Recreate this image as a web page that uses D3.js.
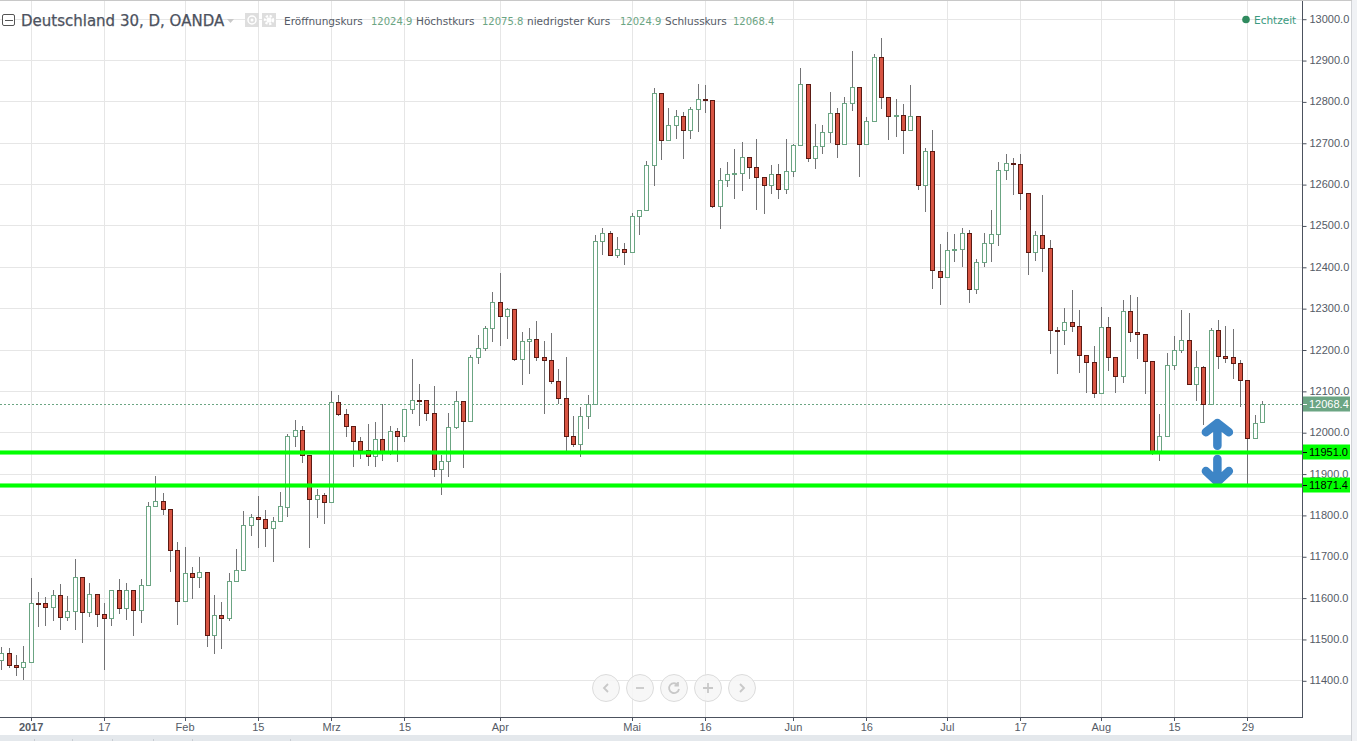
<!DOCTYPE html>
<html>
<head>
<meta charset="utf-8">
<title>Deutschland 30</title>
<script src="https://cdn.jsdelivr.net/npm/d3@7"></script>
<style>
  html, body { margin: 0; padding: 0; background: #fff; overflow: hidden; }
  svg { display: block; }
  text { font-family: "Liberation Sans", Arial, sans-serif; }
  .head { font-family: "DejaVu Sans", Verdana, sans-serif; }
</style>
</head>
<body>
<svg id="chart" width="1357" height="741"></svg>
<script>
// daily candles
const opens = [11448,11465,11436,11433,11444,11586,11586,11577,11606,11552,11567,11651,11564,11608,11560,11550,11618,11574,11618,11569,
  11630,11821,11833,11814,11714,11591,11659,11651,11661,11509,11557,11550,11639,11666,11775,11794,11789,11768,11785,11820,
  11990,12005,11946,11838,11847,11830,12072,12043,12014,11978,11956,11942,11983,11954,12002,11990,12055,12077,12077,12046,
  11910,11930,12012,12075,12026,12181,12203,12251,12316,12280,12297,12176,12220,12225,12183,12174,12125,12082,11990,11971,
  12038,12067,12462,12481,12428,12442,12435,12522,12537,12645,12820,12706,12742,12764,12732,12781,12807,12803,12546,12609,
  12624,12626,12665,12641,12616,12597,12624,12587,12631,12694,12841,12662,12691,12725,12771,12696,12795,12834,12696,12752,
  12907,12810,12764,12766,12730,12764,12597,12679,12391,12375,12440,12442,12481,12346,12411,12457,12479,12633,12650,12648,
  12578,12435,12476,12445,12246,12246,12266,12258,12186,12169,12096,12254,12181,12135,12292,12242,12237,12171,11951,11990,
  12162,12198,12222,12116,12157,12067,12246,12184,12181,12167,12126,11985,12024.9];
const highs = [11481,11478,11461,11483,11647,11613,11602,11618,11632,11604,11693,11651,11635,11608,11586,11618,11644,11635,11618,11644,
  11831,11893,11853,11814,11734,11722,11673,11697,11661,11606,11589,11659,11717,11809,11801,11845,11811,11794,11855,11996,
  12030,12015,11946,11863,11852,12100,12090,12056,12014,11988,12020,12025,12067,12014,12010,12055,12177,12117,12079,12111,
  11946,12046,12100,12075,12187,12235,12258,12339,12385,12300,12297,12242,12251,12268,12220,12239,12152,12181,12039,12060,
  12090,12477,12493,12486,12471,12457,12529,12537,12655,12832,12820,12783,12778,12774,12786,12841,12839,12803,12638,12653,
  12684,12701,12665,12708,12616,12645,12648,12708,12696,12880,12841,12745,12742,12822,12783,12810,12921,12834,12762,12914,
  12953,12810,12805,12793,12839,12764,12687,12732,12454,12483,12479,12495,12488,12420,12481,12537,12653,12674,12662,12672,
  12578,12486,12573,12464,12254,12300,12343,12295,12186,12208,12302,12278,12183,12319,12331,12326,12237,12171,12043,12191,
  12232,12295,12288,12196,12159,12251,12271,12256,12249,12174,12126,12041,12075.8];
const lows = [11425,11430,11410,11401,11444,11530,11532,11543,11522,11543,11522,11491,11554,11530,11425,11531,11561,11546,11507,11539,
  11630,11821,11800,11663,11534,11591,11597,11623,11481,11464,11476,11543,11639,11666,11749,11720,11722,11686,11785,11796,
  11965,11926,11720,11792,11778,11830,12040,11989,11916,11934,11919,11916,11931,11946,11929,11976,12044,12016,12027,11892,
  11848,11892,12008,11914,12026,12165,12197,12217,12208,12225,12173,12114,12141,12173,12044,12117,12067,11954,11965,11941,
  12008,12067,12429,12428,12421,12404,12433,12477,12537,12595,12658,12706,12709,12661,12709,12726,12772,12542,12492,12593,
  12564,12583,12612,12537,12528,12576,12564,12576,12617,12694,12654,12637,12673,12699,12663,12696,12777,12617,12696,12752,
  12782,12707,12714,12673,12730,12586,12533,12346,12308,12375,12412,12400,12312,12334,12400,12412,12450,12609,12574,12537,
  12380,12414,12387,12189,12141,12211,12242,12143,12095,12083,12094,12148,12095,12120,12218,12177,12092,11945,11930,11990,
  12150,12191,12116,12076,12017,12067,12153,12167,12128,12060,11868,11985,12024.9];
const closes = [11465,11436,11433,11444,11586,11585,11577,11606,11552,11567,11651,11564,11608,11560,11550,11618,11574,11618,11569,11630,
  11821,11833,11814,11714,11591,11659,11651,11661,11509,11557,11550,11639,11666,11775,11794,11789,11768,11785,11821,11990,
  12005,11946,11838,11847,11830,12072,12043,12014,11978,11956,11942,11983,11954,12002,11990,12055,12077,12076,12046,11910,
  11930,12012,12075,12026,12181,12203,12251,12316,12280,12297,12176,12220,12225,12183,12174,12125,12082,11990,11971,12038,
  12067,12462,12481,12428,12442,12435,12522,12537,12645,12820,12706,12742,12764,12732,12781,12807,12803,12546,12609,12624,
  12626,12665,12641,12616,12597,12624,12587,12631,12694,12841,12662,12691,12725,12771,12696,12795,12834,12696,12752,12907,
  12810,12764,12766,12730,12764,12597,12679,12392,12375,12440,12442,12481,12346,12411,12457,12479,12633,12650,12648,12578,
  12435,12476,12445,12246,12245,12266,12258,12186,12169,12096,12254,12181,12135,12292,12242,12237,12171,11951,11990,12162,
  12198,12222,12116,12157,12067,12246,12184,12180,12167,12126,11985,12022,12068.4];

const priceTicks = [13000,12900,12800,12700,12600,12500,12400,12300,12200,12100,12000,11900,11800,11700,11600,11500,11400];
const dateTickIndex = [4,14,25,35,45,55,68,86,96,108,118,129,139,150,160,170];
const dateTickLabel = ["2017","17","Feb","15","Mrz","15","Apr","Mai","16","Jun","16","Jul","17","Aug","15","29"];
const levels = [11951.0, 11871.4];
const lastPrice = 12068.4;

const legendNames = ["Eröffnungskurs","Höchstkurs","niedrigster Kurs","Schlusskurs"];
const legendValues = ["12024.9","12075.8","12024.9","12068.4"];

const green = "#6ba583", redFill = "#d75442", redEdge = "#5b1a13", wick = "#737375";
const gridCol = "#e6e6e6", axisCol = "#4c525e", labelCol = "#555b66";
const plotRight = 1302, plotBottom = 717;

const svg = d3.select("#chart");

const x = d3.scaleLinear().domain([0, 172]).range([1.3, 1262.1]);
const y = d3.scaleLinear().domain([13000, 11400]).range([18.7, 680.3]);

// snap to the pixel grid so 1px strokes stay crisp
const px = v => Math.round(v) + 0.5;

// bottom strip and right border
svg.append("rect").attr("x", 0).attr("y", 735).attr("width", 1357).attr("height", 6).attr("fill", "#e4e8ec");
svg.append("g").selectAll("line").data([34, 72, 112, 153, 192, 290]).enter().append("line")
    .attr("x1", d => d + .5).attr("x2", d => d + .5).attr("y1", 739).attr("y2", 741).attr("stroke", "#c8ccd2");
svg.append("rect").attr("x", 1352).attr("y", 0).attr("width", 5).attr("height", 741).attr("fill", "#f0f2f5");
svg.append("line").attr("x1", 1351.5).attr("x2", 1351.5).attr("y1", 0).attr("y2", 741).attr("stroke", "#d0d2d6");
svg.append("line").attr("x1", 0).attr("x2", 1352).attr("y1", .5).attr("y2", .5).attr("stroke", "#c8c8c8");

// grid
svg.append("g").selectAll("line").data(priceTicks).enter().append("line")
    .attr("x1", 0).attr("x2", plotRight)
    .attr("y1", d => px(y(d))).attr("y2", d => px(y(d)))
    .attr("stroke", gridCol);
svg.append("g").selectAll("line").data(dateTickIndex).enter().append("line")
    .attr("x1", d => px(x(d))).attr("x2", d => px(x(d)))
    .attr("y1", 1).attr("y2", plotBottom)
    .attr("stroke", gridCol);

// last price dotted line
svg.append("line")
    .attr("x1", 0).attr("x2", plotRight)
    .attr("y1", px(y(lastPrice))).attr("y2", px(y(lastPrice)))
    .attr("stroke", green).attr("stroke-dasharray", "2,2");

// candles
const candles = opens.map((o, i) => ({ i, o, h: highs[i], l: lows[i], c: closes[i] }));
const cg = svg.append("g").selectAll("g").data(candles).enter().append("g");

cg.append("line")
    .attr("x1", d => px(x(d.i))).attr("x2", d => px(x(d.i)))
    .attr("y1", d => Math.round(y(d.h))).attr("y2", d => Math.round(y(d.l)))
    .attr("stroke", wick);

cg.append("rect")
    .attr("x", d => px(x(d.i)) - 2)
    .attr("width", 4)
    .attr("y", d => px(y(Math.max(d.o, d.c))))
    .attr("height", d => Math.max(1, px(y(Math.min(d.o, d.c))) - px(y(Math.max(d.o, d.c)))))
    .attr("fill", d => d.c >= d.o ? "#ffffff" : redFill)
    .attr("stroke", d => d.c >= d.o ? green : redEdge);

// blue arrows, anchored on the scales, under the green levels
const ax = x(165.9);
const arrows = [
    `M${ax},${y(11967)}V${y(12022)}M${ax - 11.5},${y(12000)}L${ax},${y(12022)}L${ax + 11.5},${y(12000)}`,
    `M${ax},${y(11935)}V${y(11880)}M${ax - 11.5},${y(11906)}L${ax},${y(11880)}L${ax + 11.5},${y(11906)}`
];
svg.append("g").selectAll("path").data(arrows).enter().append("path")
    .attr("d", d => d).attr("fill", "none")
    .attr("stroke", "#3d85c6").attr("stroke-width", 8.5)
    .attr("stroke-linecap", "round").attr("stroke-linejoin", "round");

// horizontal levels drawn on the chart
levels.forEach(v => {
    svg.append("line").attr("x1", 0).attr("x2", plotRight).attr("y1", y(v)).attr("y2", y(v))
        .attr("stroke", "#00ff00").attr("stroke-opacity", .55).attr("stroke-width", 5);
    svg.append("line").attr("x1", 0).attr("x2", plotRight).attr("y1", y(v)).attr("y2", y(v))
        .attr("stroke", "#00ff00").attr("stroke-width", 3);
});

// axes
const yAxis = d3.axisRight(y).tickValues(priceTicks).tickFormat(d3.format(".1f")).tickSize(4).tickPadding(3);
const yg = svg.append("g").attr("transform", `translate(${plotRight + .5},0)`).call(yAxis);
yg.select(".domain").remove();
yg.selectAll("line").attr("stroke", axisCol).attr("y1", 0.5).attr("y2", 0.5);
yg.selectAll("text").attr("font-size", 11).attr("fill", labelCol).attr("font-family", "Liberation Sans");

svg.append("line").attr("x1", plotRight + .5).attr("x2", plotRight + .5).attr("y1", 1).attr("y2", plotBottom + 1).attr("stroke", axisCol);
svg.append("line").attr("x1", 0).attr("x2", plotRight + 1).attr("y1", plotBottom + .5).attr("y2", plotBottom + .5).attr("stroke", axisCol);

const xg = svg.append("g").selectAll("g").data(dateTickIndex).enter().append("g");
xg.append("line")
    .attr("x1", d => px(x(d))).attr("x2", d => px(x(d)))
    .attr("y1", plotBottom).attr("y2", plotBottom + 4)
    .attr("stroke", axisCol);
xg.append("text")
    .attr("x", d => x(d) + .5).attr("y", 731)
    .attr("text-anchor", "middle").attr("font-size", 11)
    .attr("fill", labelCol)
    .attr("font-weight", (d, i) => dateTickLabel[i] === "2017" ? "bold" : "normal")
    .text((d, i) => dateTickLabel[i]);

// price labels on the axis
function priceLabel(v, bg, fg) {
    const g = svg.append("g");
    g.append("rect").attr("x", plotRight + 1).attr("y", Math.round(y(v)) - 7.5).attr("width", 47).attr("height", 15).attr("fill", bg);
    g.append("line").attr("x1", plotRight + 1).attr("x2", plotRight + 5).attr("y1", px(y(v))).attr("y2", px(y(v))).attr("stroke", fg);
    g.append("text").attr("x", plotRight + 7).attr("y", y(v) + 4).attr("font-size", 11).attr("fill", fg).text(d3.format(".1f")(v));
}
priceLabel(lastPrice, green, "#ffffff");
levels.forEach(v => priceLabel(v, "#00ff00", "#000000"));

// header
const head = svg.append("g");
head.append("rect").attr("x", 2.5).attr("y", 14.5).attr("width", 12).attr("height", 11).attr("rx", 1.5).attr("fill", "#fff").attr("stroke", "#555");
head.append("line").attr("x1", 5).attr("x2", 13).attr("y1", 20.5).attr("y2", 20.5).attr("stroke", "#555");
head.append("text").attr("class", "head").attr("x", 21).attr("y", 26)
    .attr("font-size", 15).attr("fill", "#4c525e").attr("stroke", "#4c525e").attr("stroke-width", .25)
    .text("Deutschland 30, D, OANDA");
head.append("path").attr("d", "M227,19h7l-3.5,4z").attr("fill", "#c9c9c9");

// eye and gear buttons
[245, 262].forEach((bx, k) => {
    head.append("rect").attr("x", bx).attr("y", 13).attr("width", 14).attr("height", 14).attr("fill", "#dedede");
    head.append("circle").attr("cx", bx + 7).attr("cy", 20).attr("r", 4)
        .attr("fill", "none").attr("stroke", "#fff").attr("stroke-width", k ? 2.4 : 1.5)
        .attr("stroke-dasharray", k ? "2.2,1.6" : null);
    head.append("circle").attr("cx", bx + 7).attr("cy", 20).attr("r", k ? 2.6 : 1.5).attr("fill", "#fff");
});

const legendNameX = [284, 416, 527, 665];
const legendValX = [371, 482, 620, 733];
legendNames.forEach((n, i) => {
    head.append("text").attr("class", "head").attr("x", legendNameX[i]).attr("y", 24.5)
        .attr("font-size", 10.5).attr("fill", "#555b66").text(n);
    head.append("text").attr("class", "head").attr("x", legendValX[i]).attr("y", 24.5)
        .attr("font-size", 10).attr("fill", green).text(legendValues[i]);
});

head.append("circle").attr("cx", 1246).attr("cy", 19.5).attr("r", 3.8).attr("fill", "#2f8a5e");
head.append("text").attr("class", "head").attr("x", 1254).attr("y", 23.5)
    .attr("font-size", 10.5).attr("fill", "#3a9a80").text("Echtzeit");

// zoom buttons at the bottom
const btn = svg.append("g").selectAll("g").data(["<", "-", "r", "+", ">"]).enter().append("g")
    .attr("transform", (d, i) => `translate(${[606, 640, 674, 708, 742][i]},688)`);
btn.append("circle").attr("r", 13.5).attr("fill", "#f6f6f6").attr("fill-opacity", .85).attr("stroke", "#dcdcdc");
const icons = {
    "<": "M2,-4L-2,0L2,4",
    "-": "M-4,0H4",
    "r": "M4,-3A5,5 0 1 0 5,1M4,-6V-2.5H0.5",
    "+": "M-5,0H5M0,-5V5",
    ">": "M-2,-4L2,0L-2,4"
};
btn.append("path").attr("d", d => icons[d]).attr("fill", "none").attr("stroke", "#c8c8c8").attr("stroke-width", 1.8);
</script>
</body>
</html>
